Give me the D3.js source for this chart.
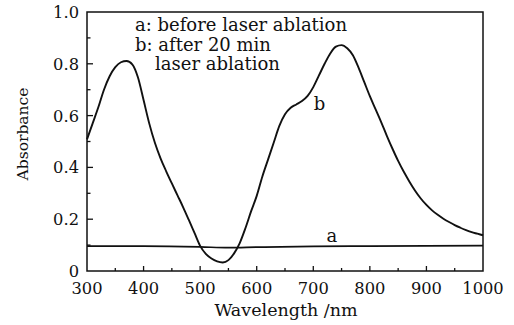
<!DOCTYPE html>
<html><head><meta charset="utf-8">
<script src="https://cdn.jsdelivr.net/npm/d3@7"></script>
<style>
html,body{margin:0;padding:0;background:#fff;}
svg text{font-family:"DejaVu Serif","Liberation Serif",serif;fill:#111;}
</style></head>
<body><svg id="c" width="514" height="325"></svg>
<script>
const wavelengthsB = [300,310,320,330,340,350,360,370,380,390,400,410,420,430,440,450,460,470,480,490,500,510,520,530,540,550,560,570,580,590,600,610,620,630,640,650,660,670,680,690,700,710,720,730,740,750,760,770,780,790,800,810,820,830,840,850,860,870,880,890,900,910,920,930,940,950,960,970,980,990,1000];
const absorbanceB = [0.508,0.57,0.632,0.70,0.752,0.787,0.806,0.811,0.798,0.748,0.66,0.57,0.495,0.435,0.385,0.338,0.292,0.246,0.197,0.147,0.097,0.066,0.048,0.037,0.033,0.042,0.068,0.108,0.165,0.23,0.29,0.365,0.43,0.495,0.56,0.605,0.63,0.643,0.656,0.676,0.71,0.755,0.80,0.84,0.866,0.872,0.86,0.833,0.785,0.73,0.675,0.625,0.575,0.522,0.472,0.425,0.383,0.345,0.31,0.28,0.255,0.234,0.217,0.202,0.189,0.177,0.167,0.158,0.150,0.144,0.138];
const wavelengthsA = [300,400,500,550,600,700,800,900,1000];
const absorbanceA = [0.096,0.096,0.093,0.090,0.092,0.095,0.096,0.097,0.098];
const xTicks = [300,400,500,600,700,800,900,1000];
const yTicks = [0,0.2,0.4,0.6,0.8,1.0];
const legendLines = ["a: before laser ablation","b: after 20 min","laser ablation"];
const curveLabels = [{t:"a", x:733, y:0.112},{t:"b", x:711, y:0.62}];

const svg = d3.select("#c");
const L=87, R=483, T=12, B=271;
const x = d3.scaleLinear().domain([300,1000]).range([L,R]);
const y = d3.scaleLinear().domain([0,1]).range([B,T]);

// frame
svg.append("rect").attr("x",L).attr("y",T).attr("width",R-L).attr("height",B-T)
  .attr("fill","none").attr("stroke","#111").attr("stroke-width",1.5);

// ticks
const minorX = d3.range(350,1000,100);
const minorY = d3.range(0.1,1.0,0.2);
const g = svg.append("g").attr("stroke","#111").attr("stroke-width",1.3);
xTicks.slice(1,-1).forEach(v=>g.append("line").attr("x1",x(v)).attr("x2",x(v)).attr("y1",B).attr("y2",B-5));
minorX.forEach(v=>g.append("line").attr("x1",x(v)).attr("x2",x(v)).attr("y1",B).attr("y2",B-3));
yTicks.slice(1,-1).forEach(v=>g.append("line").attr("x1",L).attr("x2",L+6).attr("y1",y(v)).attr("y2",y(v)));
minorY.forEach(v=>g.append("line").attr("x1",L).attr("x2",L+3.5).attr("y1",y(v)).attr("y2",y(v)));

// tick labels
xTicks.forEach(v=>svg.append("text").attr("x",x(v)).attr("y",B+23).attr("text-anchor","middle")
  .attr("font-size",16.3).text(v));
yTicks.forEach(v=>svg.append("text").attr("x",L-8).attr("y",y(v)+6).attr("text-anchor","end")
  .attr("font-size",16.3).text(v===0?"0":v.toFixed(1)));

// axis titles
svg.append("text").attr("x",286).attr("y",316).attr("text-anchor","middle").attr("font-size",17.5).text("Wavelength /nm");
svg.append("text").attr("transform","translate(28,134) rotate(-90)").attr("text-anchor","middle").attr("font-size",15.5).text("Absorbance");

// curves
const line = d3.line().x(d=>x(d[0])).y(d=>y(d[1])).curve(d3.curveMonotoneX);
svg.append("path").datum(wavelengthsA.map((w,i)=>[w,absorbanceA[i]]))
  .attr("d",line).attr("fill","none").attr("stroke","#111").attr("stroke-width",1.7);
svg.append("path").datum(wavelengthsB.map((w,i)=>[w,absorbanceB[i]]))
  .attr("d",line).attr("fill","none").attr("stroke","#111").attr("stroke-width",1.9);

// legend
svg.append("text").attr("x",135).attr("y",31).attr("font-size",18).text(legendLines[0]);
svg.append("text").attr("x",135).attr("y",51).attr("font-size",18).text(legendLines[1]);
svg.append("text").attr("x",155).attr("y",70).attr("font-size",18).text(legendLines[2]);

// curve labels
svg.append("text").attr("x",x(curveLabels[0].x)).attr("y",y(curveLabels[0].y)).attr("text-anchor","middle").attr("font-size",18).text(curveLabels[0].t);
svg.append("text").attr("x",x(curveLabels[1].x)).attr("y",y(curveLabels[1].y)).attr("text-anchor","middle").attr("font-size",18).text(curveLabels[1].t);
</script></body></html>
